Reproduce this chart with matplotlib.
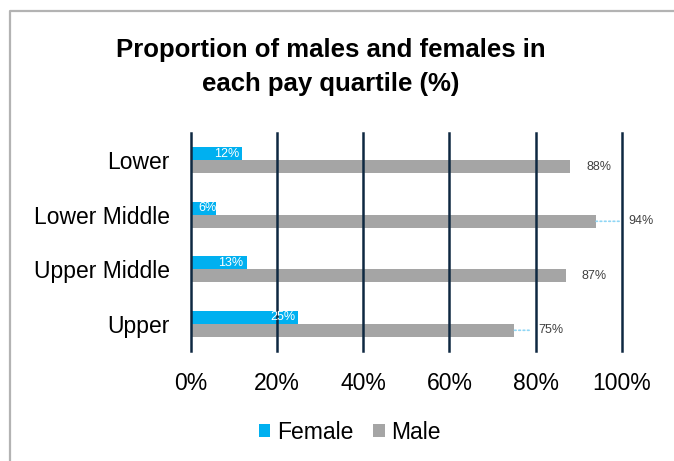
import matplotlib
matplotlib.use("Agg")
import matplotlib.pyplot as plt
from matplotlib.lines import Line2D
import numpy as np

plt.rcParams['font.family'] = ['Liberation Sans', 'DejaVu Sans']

quartiles = ["Lower", "Lower Middle", "Upper Middle", "Upper"]
female = [12, 6, 13, 25]
male = [88, 94, 87, 75]
ticks = [0, 20, 40, 60, 80, 100]

# extra push (px) of the male labels, those with a leader line
male_push = [0, 16, 0, 8]

W, H = 674, 461
fig = plt.figure(figsize=(W / 100, H / 100), dpi=100)

# outer chart frame (left and top edges only are in view)
fx, fy = 10 / W, 1 - 11.5 / H
fig.lines.append(Line2D([fx, fx, 1.2], [-0.1, fy, fy], transform=fig.transFigure,
                        color="#b3b3b3", linewidth=1.6))

ax = fig.add_axes([190.5 / W, 1 - 351 / H, (622 - 190.5) / W, (351 - 133) / H])

y = np.arange(len(quartiles))
h = 0.24
fbars = ax.barh(y - h / 2, female, height=h, color="#00b0f0", zorder=3)
mbars = ax.barh(y + h / 2, male, height=h, color="#a5a5a5", zorder=3)

ax.set_xlim(0, 100)
ax.set_ylim(len(quartiles) - 0.5, -0.5)
ax.set_yticks(y)
ax.set_yticklabels(quartiles, fontsize=16.5)
ax.set_xticks(ticks)
ax.set_xticklabels([f"{t}%" for t in ticks], fontsize=16.5)
ax.tick_params(axis="y", length=0, pad=15)
ax.tick_params(axis="x", length=0, pad=15)
for s in ax.spines.values():
    s.set_visible(False)
for t in ticks:
    ax.axvline(t, color="#0e2841", linewidth=1.8, zorder=4, clip_on=False)

for b, v in zip(fbars, female):
    ax.annotate(f"{v}%", (v, b.get_y() + b.get_height() / 2),
                xytext=(-3 if v > 6 else 0, 0), textcoords="offset pixels",
                ha="right", va="center", fontsize=9, color="white", zorder=5)

for b, v, p in zip(mbars, male, male_push):
    yc = b.get_y() + b.get_height() / 2
    ax.annotate(f"{v}%", (v, yc), xytext=(16 + p, 0), textcoords="offset pixels",
                ha="left", va="center", fontsize=9, color="#404040",
                annotation_clip=False)
    if p:
        ax.annotate("", (v, yc), xytext=(7 + p, 0), textcoords="offset pixels",
                    arrowprops=dict(arrowstyle="-", color="#8fd6f5",
                                    linestyle=(0, (1, 1.6)), linewidth=1.2,
                                    shrinkA=0, shrinkB=0),
                    annotation_clip=False)

fig.text(331 / W, 1 - 57 / H, "Proportion of males and females in",
         ha="center", va="baseline", fontsize=18.5, fontweight="bold")
fig.text(331 / W, 1 - 91 / H, "each pay quartile (%)",
         ha="center", va="baseline", fontsize=18.5, fontweight="bold")

leg = fig.legend([fbars, mbars], ["Female", "Male"], loc="center",
                 bbox_to_anchor=(350 / W, 1 - 432 / H), ncol=2, frameon=False,
                 fontsize=16.5, handlelength=0.5, handleheight=0.5,
                 handletextpad=0.3, columnspacing=0.85)

fig.savefig("out.png", dpi=100)
